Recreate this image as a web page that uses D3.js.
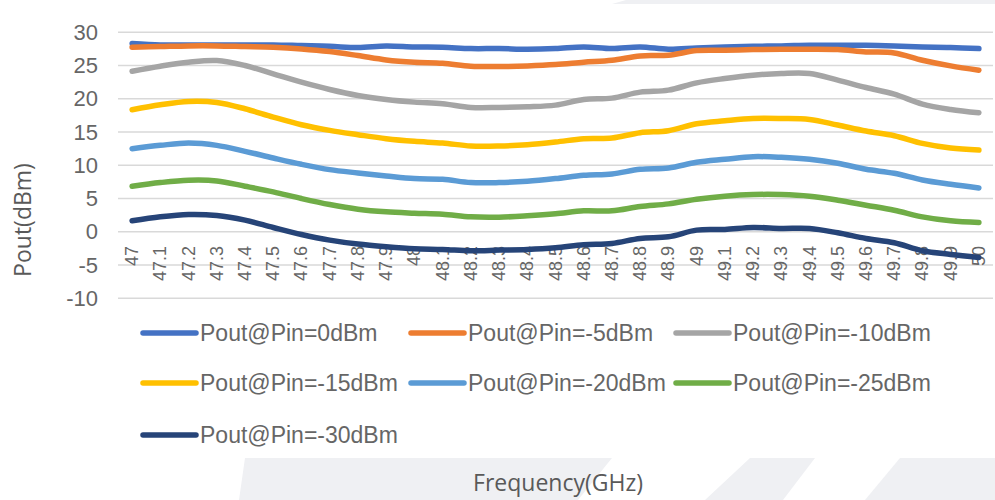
<!DOCTYPE html>
<html>
<head>
<meta charset="utf-8">
<script src="https://cdn.jsdelivr.net/npm/d3@7"></script>
<style>
body{margin:0;background:#fff;}
svg{display:block;}
</style>
</head>
<body>
<div id="chart"></div>
<script>
const freqs=["47","47.1","47.2","47.3","47.4","47.5","47.6","47.7","47.8","47.9","48","48.1","48.2","48.3","48.4","48.5","48.6","48.7","48.8","48.9","49","49.1","49.2","49.3","49.4","49.5","49.6","49.7","49.8","49.9","50"];
const seriesNames=["Pout@Pin=0dBm","Pout@Pin=-5dBm","Pout@Pin=-10dBm","Pout@Pin=-15dBm","Pout@Pin=-20dBm","Pout@Pin=-25dBm","Pout@Pin=-30dBm"];
const pin0=[28.3,28.1,28.1,28.1,28.1,28.1,28.0,27.9,27.7,27.95,27.8,27.75,27.55,27.55,27.45,27.55,27.8,27.55,27.8,27.45,27.65,27.8,27.9,27.95,28.05,28.05,28.05,27.95,27.8,27.7,27.55];
const pin5=[27.75,27.85,27.95,27.95,27.85,27.75,27.5,27.1,26.5,25.85,25.5,25.35,24.9,24.85,24.95,25.15,25.5,25.8,26.45,26.55,27.25,27.3,27.4,27.45,27.45,27.4,27.05,26.9,25.8,24.95,24.3];
const pin10=[24.15,24.9,25.5,25.75,25.0,23.75,22.5,21.4,20.5,19.9,19.5,19.25,18.7,18.7,18.8,19.05,19.9,20.1,21.0,21.3,22.4,23.05,23.55,23.8,23.8,22.8,21.7,20.7,19.2,18.4,17.9];
const pin15=[18.35,19.1,19.6,19.45,18.5,17.25,16.1,15.25,14.6,14.0,13.6,13.35,12.9,12.9,13.1,13.5,14.0,14.1,14.9,15.2,16.25,16.7,17.05,17.05,16.9,16.05,15.15,14.45,13.3,12.6,12.3];
const pin20=[12.5,13.0,13.35,13.0,12.1,11.1,10.15,9.35,8.85,8.4,8.0,7.9,7.4,7.4,7.6,8.0,8.5,8.7,9.4,9.6,10.45,10.9,11.3,11.2,10.9,10.3,9.4,8.8,7.8,7.15,6.6];
const pin25=[6.85,7.4,7.75,7.65,6.85,6.0,5.0,4.1,3.4,3.0,2.8,2.65,2.25,2.2,2.4,2.7,3.15,3.15,3.8,4.2,4.9,5.35,5.6,5.6,5.35,4.75,4.0,3.25,2.25,1.65,1.4];
const pin30=[1.65,2.25,2.6,2.45,1.75,0.65,-0.4,-1.25,-1.85,-2.25,-2.55,-2.65,-2.85,-2.75,-2.65,-2.4,-1.95,-1.75,-1.0,-0.75,0.25,0.35,0.65,0.5,0.5,-0.15,-1.0,-1.65,-2.85,-3.4,-3.85];
const yTicks=[-10,-5,0,5,10,15,20,25,30];

const allSeries=[pin0,pin5,pin10,pin15,pin20,pin25,pin30];
const colors=["#4472C4","#ED7D31","#A5A5A5","#FFC000","#5B9BD5","#70AD47","#264478"];
const textColor="#666666";

const W=995,H=500;
const svg=d3.select("#chart").append("svg").attr("width",W).attr("height",H);

// slide background shapes
const bg="#eff0f3";
[
  [[612,4],[626,0],[995,0],[995,4]],
  [[245,458],[612,458],[578,500],[239,500]],
  [[750,458],[815,458],[783,500],[705,500]],
  [[900,458],[995,458],[995,500],[865,500]]
].forEach(p=>{
  svg.append("polygon").attr("points",p.map(q=>q.join(",")).join(" ")).attr("fill",bg);
});

const x=d3.scaleBand().domain(freqs).range([118,993]);
const cx=d=>x(d)+x.bandwidth()/2;
const y=d3.scaleLinear().domain([-10,30]).range([298.3,32.3]);

// grid
svg.append("g").selectAll("line").data(yTicks).enter().append("line")
  .attr("x1",118).attr("x2",993)
  .attr("y1",d=>y(d)).attr("y2",d=>y(d))
  .attr("stroke","#d9d9d9").attr("stroke-width",1.5);

// y tick labels
svg.append("g").selectAll("text").data(yTicks).enter().append("text")
  .attr("x",98).attr("y",d=>y(d))
  .attr("text-anchor","end").attr("dominant-baseline","central")
  .attr("font-family","Liberation Sans, Arial, sans-serif")
  .attr("font-size",22).attr("fill",textColor)
  .text(d=>String(d));

// x tick labels (rotated)
svg.append("g").selectAll("text").data(freqs).enter().append("text")
  .attr("transform",d=>`translate(${cx(d)},246) rotate(-90)`)
  .attr("text-anchor","end").attr("dominant-baseline","central")
  .attr("font-family","Liberation Sans, Arial, sans-serif")
  .attr("font-size",18).attr("fill",textColor)
  .text(d=>d);

// lines
const line=d3.line()
  .x((d,i)=>cx(freqs[i]))
  .y(d=>y(d))
  .curve(d3.curveCatmullRom.alpha(0.5));

svg.append("g").selectAll("path").data(allSeries).enter().append("path")
  .attr("d",d=>line(d))
  .attr("fill","none")
  .attr("stroke",(d,i)=>colors[i])
  .attr("stroke-width",5.5)
  .attr("stroke-linecap","round")
  .attr("stroke-linejoin","round");

// axis titles
svg.append("text")
  .attr("transform","translate(22,220) rotate(-90)")
  .attr("text-anchor","middle").attr("dominant-baseline","central")
  .attr("font-family","Open Sans, sans-serif")
  .attr("font-size",23).attr("fill","#595959")
  .text("Pout(dBm)");

svg.append("text")
  .attr("x",558).attr("y",491)
  .attr("text-anchor","middle")
  .attr("font-family","Open Sans, sans-serif")
  .attr("font-size",23).attr("fill","#595959")
  .text("Frequency(GHz)");

// legend
const legCols=[141,409,674];
const legRows=[333,383,435];
const leg=svg.append("g").selectAll("g").data(seriesNames).enter().append("g")
  .attr("transform",(d,i)=>`translate(${legCols[i%3]},${legRows[Math.floor(i/3)]})`);
leg.append("line")
  .attr("x1",2).attr("x2",55).attr("y1",0).attr("y2",0)
  .attr("stroke",(d,i)=>colors[i]).attr("stroke-width",5.5).attr("stroke-linecap","round");
leg.append("text")
  .attr("x",59).attr("y",0)
  .attr("dominant-baseline","central")
  .attr("font-family","Liberation Sans, Arial, sans-serif")
  .attr("font-size",23).attr("fill",textColor)
  .text(d=>d);
</script>
</body>
</html>
